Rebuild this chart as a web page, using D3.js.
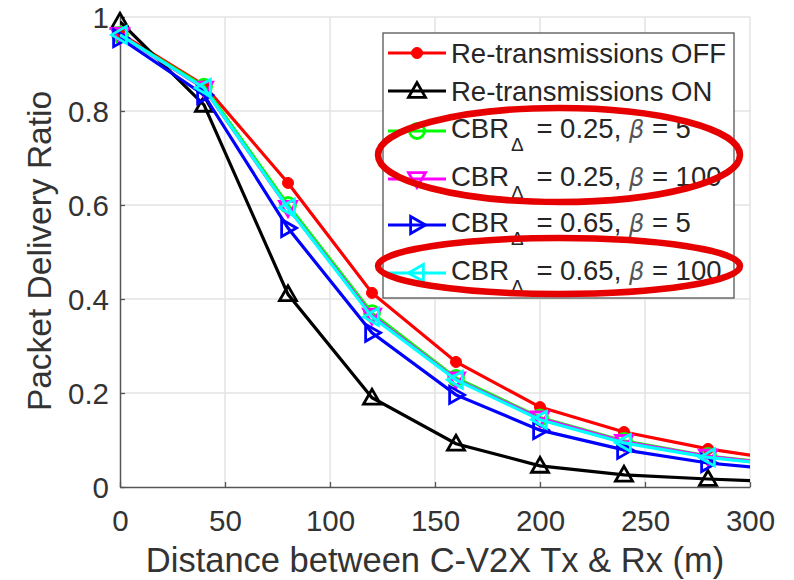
<!DOCTYPE html>
<html>
<head>
<meta charset="utf-8">
<script src="https://cdn.jsdelivr.net/npm/d3@7"></script>
<style>
  html, body { margin: 0; padding: 0; background: #fff; }
  svg { display: block; font-family: "Liberation Sans", Arial, Helvetica, sans-serif; }
</style>
</head>
<body>
<svg id="chart" width="794" height="580"></svg>
<script>
// ---- data ----
const distances = [0, 40, 80, 120, 160, 200, 240, 280, 320];
const retxOff   = [0.965, 0.855, 0.647, 0.413, 0.266, 0.170, 0.117, 0.081, 0.055];
const retxOn    = [0.990, 0.813, 0.410, 0.190, 0.092, 0.045, 0.026, 0.017, 0.010];
const cbr025b5  = [0.962, 0.852, 0.600, 0.370, 0.232, 0.148, 0.098, 0.066, 0.046];
const cbr025b100= [0.962, 0.848, 0.594, 0.365, 0.229, 0.146, 0.096, 0.065, 0.045];
const cbr065b5  = [0.955, 0.834, 0.551, 0.328, 0.196, 0.121, 0.079, 0.051, 0.035];
const cbr065b100= [0.962, 0.849, 0.594, 0.362, 0.228, 0.143, 0.094, 0.063, 0.044];
const xTicks = [0, 50, 100, 150, 200, 250, 300];
const yTicks = [0, 0.2, 0.4, 0.6, 0.8, 1];
const xLabel = "Distance between C-V2X Tx & Rx (m)";
const yLabel = "Packet Delivery Ratio";

const series = [
  { name: "Re-transmissions OFF", values: retxOff,   color: "#ff0000", marker: "dot" },
  { name: "Re-transmissions ON",  values: retxOn,    color: "#000000", marker: "up" },
  { cbr: "0.25", beta: "5",   values: cbr025b5,   color: "#00ff00", marker: "circle" },
  { cbr: "0.25", beta: "100", values: cbr025b100, color: "#ff00ff", marker: "down" },
  { cbr: "0.65", beta: "5",   values: cbr065b5,   color: "#0000ff", marker: "right" },
  { cbr: "0.65", beta: "100", values: cbr065b100, color: "#00ffff", marker: "left" }
];

// ---- layout ----
const svg = d3.select("#chart");
const L = 120, R = 750, T = 17, B = 487;
const x = d3.scaleLinear().domain([0, 300]).range([L, R]);
const y = d3.scaleLinear().domain([0, 1]).range([B, T]);

// grid
const grid = svg.append("g");
grid.selectAll("line.gx").data(xTicks.slice(1)).enter().append("line")
  .attr("x1", d => x(d)).attr("x2", d => x(d)).attr("y1", T).attr("y2", B)
  .attr("stroke", "#e3e3e3").attr("stroke-width", 1.5);
grid.selectAll("line.gy").data(yTicks.slice(1)).enter().append("line")
  .attr("x1", L).attr("x2", R).attr("y1", d => y(d)).attr("y2", d => y(d))
  .attr("stroke", "#e3e3e3").attr("stroke-width", 1.5);

// axes
const xAxis = d3.axisBottom(x).tickValues(xTicks).tickFormat(d3.format("d"))
  .tickSizeInner(-5).tickSizeOuter(0).tickPadding(23);
const yAxis = d3.axisLeft(y).tickValues(yTicks).tickFormat(d => d === 0 || d === 1 ? String(d) : d3.format(".1f")(d))
  .tickSizeInner(-5).tickSizeOuter(0).tickPadding(11);

const gx = svg.append("g").attr("transform", `translate(0,${B})`).call(xAxis);
const gy = svg.append("g").attr("transform", `translate(${L},0)`).call(yAxis);
[gx, gy].forEach(g => {
  g.select(".domain").attr("stroke", "#555").attr("stroke-width", 1.5);
  g.selectAll(".tick line").attr("stroke", "#555").attr("stroke-width", 1.3);
  g.selectAll(".tick text").attr("fill", "#333").style("font-size", "29.5px")
    .style("font-family", "'Liberation Sans', Arial, sans-serif");
});
gy.selectAll(".tick text").attr("dy", "0.36em");

// axis labels
svg.append("text").attr("x", (L + R) / 2).attr("y", 572).attr("text-anchor", "middle")
  .attr("fill", "#333").style("font-size", "34.5px").text(xLabel);
svg.append("text").attr("transform", "translate(51,251) rotate(-90)").attr("text-anchor", "middle")
  .attr("fill", "#333").style("font-size", "33.5px").text(yLabel);

// clip
svg.append("clipPath").attr("id", "plotclip").append("rect")
  .attr("x", L).attr("y", 0).attr("width", R - L).attr("height", B + 2);

// markers
function drawMarker(g, type, cx, cy, color) {
  const s = 8.5;
  if (type === "dot") {
    g.append("circle").attr("cx", cx).attr("cy", cy).attr("r", 5.5).attr("fill", color).attr("stroke", color).attr("stroke-width", 1);
    return;
  }
  if (type === "circle") {
    g.append("circle").attr("cx", cx).attr("cy", cy).attr("r", 7.5).attr("fill", "none").attr("stroke", color).attr("stroke-width", 2.8);
    return;
  }
  let pts;
  if (type === "up") pts = [[cx, cy - s], [cx - s, cy + s * 0.75], [cx + s, cy + s * 0.75]];
  if (type === "down") pts = [[cx, cy + s], [cx - s, cy - s * 0.75], [cx + s, cy - s * 0.75]];
  if (type === "right") pts = [[cx + s, cy], [cx - s * 0.75, cy - s], [cx - s * 0.75, cy + s]];
  if (type === "left") pts = [[cx - s, cy], [cx + s * 0.75, cy - s], [cx + s * 0.75, cy + s]];
  g.append("polygon").attr("points", pts.map(p => p.join(",")).join(" "))
    .attr("fill", "none").attr("stroke", color).attr("stroke-width", 2.8).attr("stroke-linejoin", "miter");
}

const line = d3.line().x((d, i) => x(distances[i])).y(d => y(d));
series.forEach(s => {
  const g = svg.append("g");
  g.append("path").attr("d", line(s.values)).attr("fill", "none")
    .attr("stroke", s.color).attr("stroke-width", 3.2).attr("clip-path", "url(#plotclip)");
  s.values.forEach((v, i) => {
    if (distances[i] <= 300) drawMarker(g, s.marker, x(distances[i]), y(v), s.color);
  });
});

// legend
const lg = svg.append("g");
lg.append("rect").attr("x", 383).attr("y", 33).attr("width", 351).attr("height", 265)
  .attr("fill", "#fff").attr("stroke", "#555").attr("stroke-width", 1.3);
const rowY = [53, 91, 131, 179, 225, 273];
series.forEach((s, i) => {
  const ly = rowY[i];
  lg.append("line").attr("x1", 388).attr("x2", 446).attr("y1", ly).attr("y2", ly)
    .attr("stroke", s.color).attr("stroke-width", 3.2);
  drawMarker(lg, s.marker, 417, ly, s.color);
  const t = lg.append("text").attr("x", 451).attr("fill", "#262626").style("font-size", "27.5px");
  if (s.name) {
    t.attr("y", ly + 10).text(s.name);
  } else {
    t.attr("y", ly + 7);
    t.append("tspan").text("CBR");
    t.append("tspan").attr("dy", 13).attr("dx", 2).style("font-size", "19px").text("\u0394");
    t.append("tspan").attr("dy", -13).attr("dx", 5).text(" = " + s.cbr + ", ");
    t.append("tspan").style("font-style", "italic").attr("fill", "#555")
      .style("font-family", "'DejaVu Sans', sans-serif").style("font-size", "24px").text("\u03b2");
    t.append("tspan").text(" = " + s.beta);
  }
});

// highlight ellipses
svg.append("ellipse").attr("cx", 559).attr("cy", 155).attr("rx", 181).attr("ry", 47)
  .attr("fill", "none").attr("stroke", "#e60000").attr("stroke-width", 6.5);
svg.append("ellipse").attr("cx", 559).attr("cy", 266).attr("rx", 181).attr("ry", 28)
  .attr("fill", "none").attr("stroke", "#e60000").attr("stroke-width", 6.5);
</script>
</body>
</html>
